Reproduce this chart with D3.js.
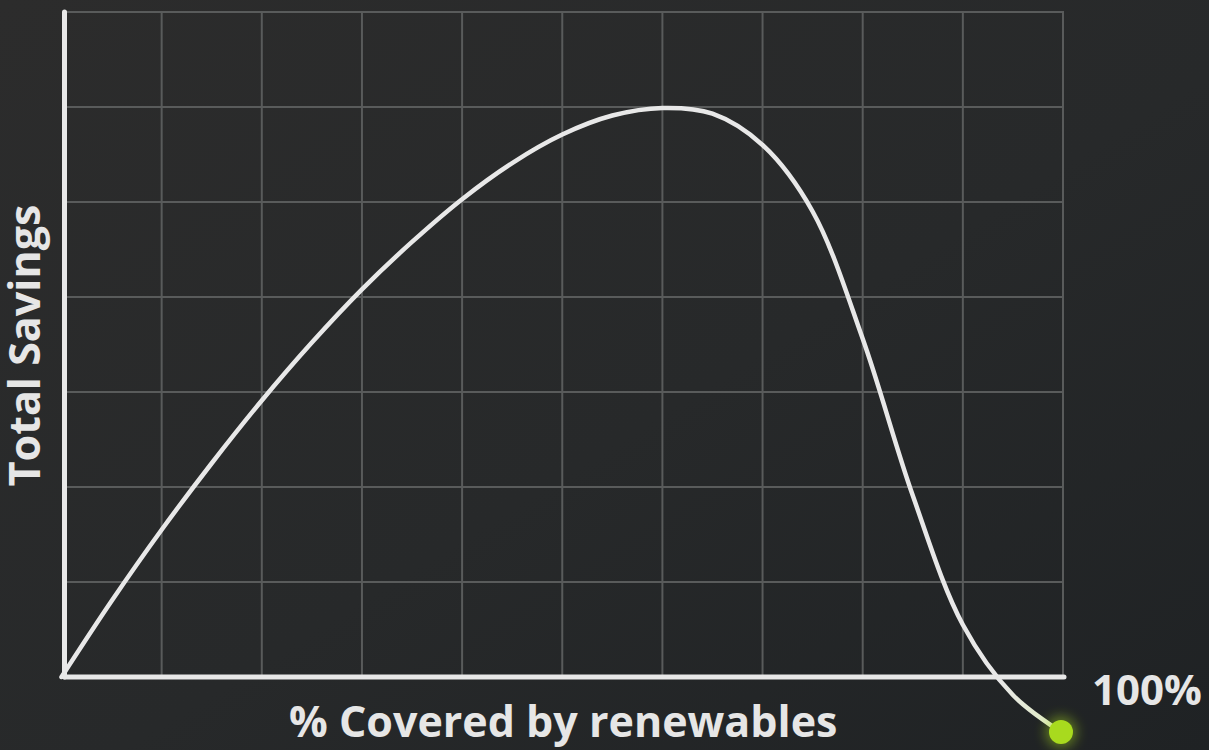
<!DOCTYPE html>
<html>
<head>
<meta charset="utf-8">
<script src="https://cdn.jsdelivr.net/npm/d3@7"></script>
<style>
  html, body { margin: 0; padding: 0; background: #262828; }
  svg { display: block; }
</style>
</head>
<body>
<svg id="chart" width="1209" height="750"></svg>
<script>
// % covered by renewables (x) vs total savings in grid units (y)
const coverage = [0, 5, 10, 15, 20, 25, 30, 35, 40, 45, 50, 55, 60, 65, 70, 75, 80, 85, 90, 95, 99.8];
const savings  = [0, 0.8, 1.55, 2.25, 2.91, 3.52, 4.08, 4.58, 5.03, 5.41, 5.71, 5.91, 5.99, 5.93, 5.6, 4.9, 3.56, 1.91, 0.55, -0.19, -0.58];
const xGridTicks = [10, 20, 30, 40, 50, 60, 70, 80, 90, 100];
const yGridTicks = [1, 2, 3, 4, 5, 6, 7];
const xLabel = "% Covered by renewables";
const yLabel = "Total Savings";
const endLabel = "100%";

const svg = d3.select("#chart");
const W = 1209, H = 750;

const defs = svg.append("defs");
const bg = defs.append("linearGradient").attr("id", "bg")
  .attr("x1", "0%").attr("y1", "0%").attr("x2", "100%").attr("y2", "100%");
bg.append("stop").attr("offset", "0%").attr("stop-color", "#2c2c2c");
bg.append("stop").attr("offset", "55%").attr("stop-color", "#27292a");
bg.append("stop").attr("offset", "100%").attr("stop-color", "#1f2224");

const lineGrad = defs.append("linearGradient").attr("id", "lineGrad")
  .attr("gradientUnits", "userSpaceOnUse")
  .attr("x1", 1000).attr("y1", 0).attr("x2", 1058).attr("y2", 0);
lineGrad.append("stop").attr("offset", "0%").attr("stop-color", "#e8e8e8");
lineGrad.append("stop").attr("offset", "100%").attr("stop-color", "#e0ecc0");

const glow = defs.append("filter").attr("id", "glow")
  .attr("x", "-100%").attr("y", "-100%").attr("width", "300%").attr("height", "300%");
glow.append("feGaussianBlur").attr("stdDeviation", 6);

svg.append("rect").attr("width", W).attr("height", H).attr("fill", "url(#bg)");

const x = d3.scaleLinear().domain([0, 100]).range([61.5, 1063]);
const y = d3.scaleLinear().domain([0, 7]).range([677, 12]);

// grid
const grid = svg.append("g").attr("stroke", "#595b5b").attr("stroke-width", 2);
grid.selectAll("line.v").data(xGridTicks).join("line")
  .attr("class", "v")
  .attr("x1", d => x(d)).attr("x2", d => x(d))
  .attr("y1", y(7) - 1).attr("y2", y(0));
grid.selectAll("line.h").data(yGridTicks).join("line")
  .attr("class", "h")
  .attr("x1", 66).attr("x2", x(100) + 1)
  .attr("y1", d => y(d)).attr("y2", d => y(d));

// axes
svg.append("line")
  .attr("x1", 64.5).attr("x2", 64.5).attr("y1", y(7)).attr("y2", y(0))
  .attr("stroke", "#e8e8e8").attr("stroke-width", 5).attr("stroke-linecap", "round");
svg.append("line")
  .attr("x1", 64.5).attr("x2", x(100) + 1).attr("y1", y(0)).attr("y2", y(0))
  .attr("stroke", "#e8e8e8").attr("stroke-width", 5).attr("stroke-linecap", "round");

// curve
const pts = coverage.map((c, i) => [c, savings[i]]);
const line = d3.line().x(d => x(d[0])).y(d => y(d[1])).curve(d3.curveCatmullRom.alpha(0.5));
svg.append("path").datum(pts)
  .attr("d", line)
  .attr("fill", "none")
  .attr("stroke", "url(#lineGrad)")
  .attr("stroke-width", 4.5)
  .attr("stroke-linecap", "round");

// end dot
const last = pts[pts.length - 1];
svg.append("circle")
  .attr("cx", x(last[0])).attr("cy", y(last[1])).attr("r", 16)
  .attr("fill", "#a6d81e").attr("opacity", 0.45).attr("filter", "url(#glow)");
svg.append("circle")
  .attr("cx", x(last[0])).attr("cy", y(last[1])).attr("r", 12)
  .attr("fill", "#a8da1e");

// labels
const font = "'Open Sans', 'Noto Sans', sans-serif";
svg.append("text")
  .attr("x", (x(0) + x(100)) / 2 + 1).attr("y", 737)
  .attr("text-anchor", "middle")
  .attr("font-family", font).attr("font-weight", 700).attr("font-size", 43)
  .attr("fill", "#e6e6e6")
  .text(xLabel);

svg.append("text")
  .attr("transform", `translate(40, ${(y(0) + y(7)) / 2 + 1}) rotate(-90)`)
  .attr("text-anchor", "middle")
  .attr("font-family", font).attr("font-weight", 700).attr("font-size", 43)
  .attr("fill", "#e6e6e6")
  .text(yLabel);

svg.append("text")
  .attr("x", 1092).attr("y", 705)
  .attr("font-family", font).attr("font-weight", 700).attr("font-size", 42)
  .attr("fill", "#e6e6e6")
  .text(endLabel);
</script>
</body>
</html>
